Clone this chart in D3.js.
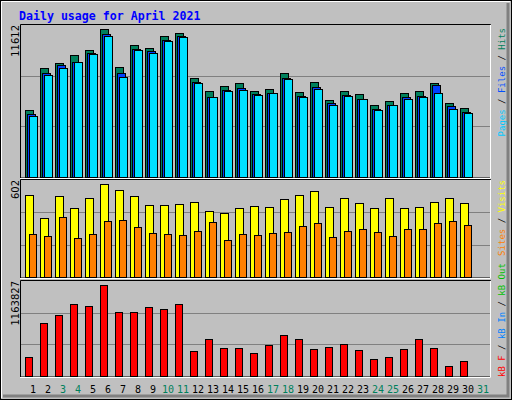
<!DOCTYPE html>
<html><head><meta charset="utf-8">
<script src="https://cdn.jsdelivr.net/npm/d3@7"></script>
<style>body{margin:0;background:#fff}</style></head>
<body><svg id="c" width="512" height="400"></svg>
<script>
const days = d3.range(1, 32);
const weekend = [3,4,10,11,17,18,24,25,31];
const hits  = [5119,8328,8710,9321,9703,11307,8404,10085,9856,10772,11002,7564,6570,6952,7182,6570,6723,7946,6494,7258,5883,6570,6341,5501,5806,6418,6570,7182,5654,5272];
const files = [4813,7946,8557,8786,9474,10925,7946,9779,9626,10467,10772,7258,6112,6647,6800,6341,6418,7564,6188,6876,5654,6265,5959,5195,5501,6112,6188,7029,5424,4966];
const pages = [4660,7793,8328,8786,9397,10772,7640,9703,9474,10390,10696,7182,6112,6570,6647,6265,6418,7487,6112,6723,5501,6188,5959,5119,5501,5959,6112,6418,5195,4890];
const visits= [506,368,500,431,493,575,543,500,449,449,456,468,412,399,431,443,437,487,506,531,437,493,462,431,493,431,437,468,493,462];
const sites = [268,255,374,242,268,349,355,311,274,268,261,286,343,230,268,261,274,280,318,336,249,286,299,280,255,299,299,336,349,324];
const kbytes= [235190,652855,750175,879935,855605,1111070,782615,782615,843440,819110,879935,308180,454160,344675,344675,283850,381170,502820,454160,332510,356840,393335,320345,210860,235190,332510,454160,344675,125705,186530];
const maxHits = 11612, maxVisits = 602, maxKB = 1163827;

const svg = d3.select("#c");
svg.append("rect").attr("width",512).attr("height",400).attr("fill","#c0c0c0");
svg.append("rect").attr("x",0.5).attr("y",0.5).attr("width",511).attr("height",399).attr("fill","none").attr("stroke","#000");
svg.append("path").attr("d","M1.5,398V1.5H510").attr("stroke","#fff").attr("fill","none");
svg.append("path").attr("d","M508,3V396H3").attr("stroke","#808080").attr("stroke-width",3).attr("fill","none");

svg.append("text").attr("x",19).attr("y",20).text("Daily usage for April 2021")
  .attr("font-family","DejaVu Sans Mono").attr("font-weight","bold").attr("font-size",11.6).attr("fill","#0000ff");

const x = d3.scaleLinear().domain([1,32]).range([25,490]);
const mono = "DejaVu Sans Mono";

function panel(top, bottom, max, label, rightLabels, anchorTop, labelPos){
  const y = d3.scaleLinear().domain([0,max]).range([bottom, top]);
  const g = svg.append("g");
  g.append("path").attr("d",`M20.5,${bottom+1}V${top-0.5}H490.5V${bottom+1}H20.5`).attr("fill","none").attr("stroke","#000");
  g.append("path").attr("d",`M490.5,${top}V${bottom+1.5}H20`).attr("fill","none").attr("stroke","#fff");
  [1/3,2/3].forEach(f=>g.append("line").attr("x1",21).attr("x2",490).attr("y1",Math.round(y(max*f))+0.5).attr("y2",Math.round(y(max*f))+0.5).attr("stroke","#808080"));
  svg.append("text").attr("transform",`translate(19,${top}) rotate(-90)`).attr("text-anchor","end")
    .attr("font-family","DejaVu Sans").attr("font-size",10).attr("fill","#000").text(label);
  const t = svg.append("text").attr("transform",`translate(505,${labelPos}) rotate(-90)`)
    .attr("text-anchor",anchorTop?"end":"start")
    .attr("font-family",mono).attr("font-size",9);
  rightLabels.forEach((r,i)=>{
    if(i>0) t.append("tspan").attr("fill","#000").text(" / ");
    t.append("tspan").attr("fill",r[1]).text(r[0]);
  });
  return y;
}
function bars(y, data, dx, w, color){
  svg.append("g").selectAll("rect").data(data).join("rect")
    .attr("x",(d,i)=>x(i+1)+dx+0.5).attr("width",w)
    .attr("y",d=>Math.round(y(d))+0.5).attr("height",d=>y.range()[0]-Math.round(y(d)))
    .attr("fill",color).attr("stroke","#000");
}
const y1 = panel(25,177,maxHits,"11612",[["Pages","#00c8ff"],["Files","#0050ff"],["Hits","#00805c"]],true,28);
bars(y1,hits,0,8,"#00805c");
bars(y1,files,2,8,"#0040ff");
bars(y1,pages,4,8,"#00e0ff");
const y2 = panel(180,277,maxVisits,"602",[["Sites","#ff8000"],["Visits","#ffff00"]],true,180);
bars(y2,visits,0,8,"#ffff00");
bars(y2,sites,4,7,"#ff8000");
const y3 = panel(281,376,maxKB,"1163827",[["kB F","#ff0000"],["kB In","#0080ff"],["kB Out","#00c000"]],false,377);
bars(y3,kbytes,0,7,"#ff0000");

svg.append("g").selectAll("text").data(days).join("text")
  .attr("x",d=>x(d)+8).attr("y",393).attr("text-anchor","middle")
  .attr("font-family",mono).attr("font-size",10)
  .attr("fill",d=>weekend.includes(d)?"#00805c":"#000").text(d=>d);
</script></body></html>
